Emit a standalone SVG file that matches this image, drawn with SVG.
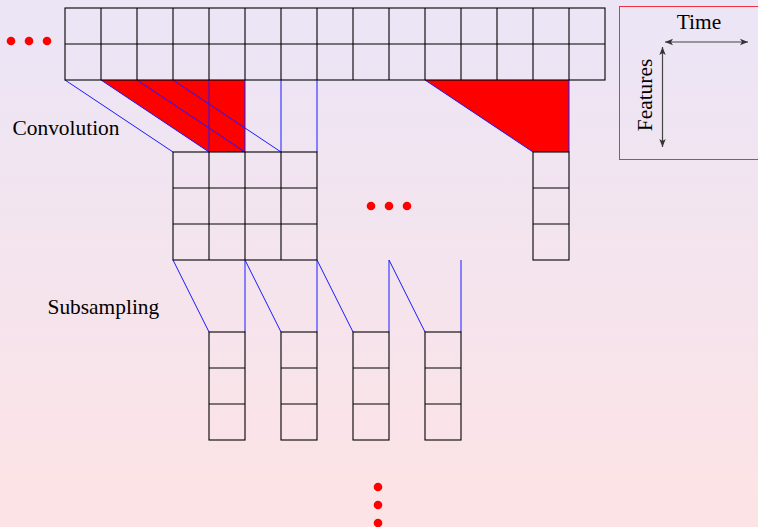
<svg xmlns="http://www.w3.org/2000/svg" width="758" height="527" viewBox="0 0 758 527">
<defs>
<linearGradient id="bg" x1="0" y1="0" x2="0" y2="1">
<stop offset="0" stop-color="#ebe5f6"/>
<stop offset="1" stop-color="#fde3e5"/>
</linearGradient>
<marker id="ah" viewBox="-1 -4 10 8" markerWidth="10" markerHeight="8" refX="8" refY="0" orient="auto-start-reverse" markerUnits="userSpaceOnUse">
<path d="M0,-3.2 L8,0 L0,3.2 L2,0 z" fill="#333"/>
</marker>
</defs>
<style>
.cell{fill:none;stroke:#000;stroke-width:1.1}
.conn{stroke:#1a1aff;stroke-width:1;fill:none}
.kern{fill:#ff0000;stroke:none}
.dot{fill:#ff0000}
.lbl{font-family:"Liberation Serif","Times New Roman",serif;font-size:21.4px;fill:#000}
.axis{stroke:#444;stroke-width:1.2;fill:none;marker-start:url(#ah);marker-end:url(#ah)}
</style>
<rect width="758" height="527" fill="url(#bg)"/>

<g id="kernels">
<polygon class="kern" points="101,80 245,80 245,152 209,152"/>
<polygon class="kern" points="425,80 569,80 569,152 533,152"/>
</g>

<g id="connectors">
<line class="conn" x1="65" y1="80" x2="173" y2="152"/>
<line class="conn" x1="101" y1="80" x2="209" y2="152"/>
<line class="conn" x1="137" y1="80" x2="245" y2="152"/>
<line class="conn" x1="173" y1="80" x2="281" y2="152"/>
<line class="conn" x1="209" y1="80" x2="209" y2="152"/>
<line class="conn" x1="245" y1="80" x2="245" y2="152"/>
<line class="conn" x1="281" y1="80" x2="281" y2="152"/>
<line class="conn" x1="317" y1="80" x2="317" y2="152"/>
<line class="conn" x1="425" y1="80" x2="533" y2="152"/>
<line class="conn" x1="569" y1="80" x2="569" y2="152"/>
<line class="conn" x1="173" y1="260" x2="209" y2="332"/>
<line class="conn" x1="245" y1="260" x2="245" y2="332"/>
<line class="conn" x1="245" y1="260" x2="281" y2="332"/>
<line class="conn" x1="317" y1="260" x2="317" y2="332"/>
<line class="conn" x1="317" y1="260" x2="353" y2="332"/>
<line class="conn" x1="389" y1="260" x2="389" y2="332"/>
<line class="conn" x1="389" y1="260" x2="425" y2="332"/>
<line class="conn" x1="461" y1="260" x2="461" y2="332"/>
</g>

<g id="input-layer">
<rect class="cell" x="65" y="8" width="540" height="72"/>
<path class="cell" d="M65,44H605 M101,8V80 M137,8V80 M173,8V80 M209,8V80 M245,8V80 M281,8V80 M317,8V80 M353,8V80 M389,8V80 M425,8V80 M461,8V80 M497,8V80 M533,8V80 M569,8V80"/>
</g>

<g id="conv-layer">
<rect class="cell" x="173" y="152" width="144" height="108"/>
<path class="cell" d="M173,188H317 M173,224H317 M209,152V260 M245,152V260 M281,152V260"/>
</g>

<g id="conv-right">
<rect class="cell" x="533" y="152" width="36" height="108"/>
<path class="cell" d="M533,188H569 M533,224H569"/>
</g>

<g id="sub-1">
<rect class="cell" x="209" y="332" width="36" height="108"/>
<path class="cell" d="M209,368H245 M209,404H245"/>
</g>
<g id="sub-2">
<rect class="cell" x="281" y="332" width="36" height="108"/>
<path class="cell" d="M281,368H317 M281,404H317"/>
</g>
<g id="sub-3">
<rect class="cell" x="353" y="332" width="36" height="108"/>
<path class="cell" d="M353,368H389 M353,404H389"/>
</g>
<g id="sub-4">
<rect class="cell" x="425" y="332" width="36" height="108"/>
<path class="cell" d="M425,368H461 M425,404H461"/>
</g>

<g id="dots-left">
<circle class="dot" cx="11" cy="41" r="4.3"/>
<circle class="dot" cx="29" cy="41" r="4.3"/>
<circle class="dot" cx="47" cy="41" r="4.3"/>
</g>
<g id="dots-middle">
<circle class="dot" cx="371" cy="206" r="4.3"/>
<circle class="dot" cx="389" cy="206" r="4.3"/>
<circle class="dot" cx="407" cy="206" r="4.3"/>
</g>
<g id="dots-bottom">
<circle class="dot" cx="378" cy="487" r="4.3"/>
<circle class="dot" cx="378" cy="505" r="4.3"/>
<circle class="dot" cx="378" cy="523" r="4.3"/>
</g>

<g id="label-convolution">
<text class="lbl" x="12.5" y="135">Convolution</text>
</g>
<g id="label-subsampling">
<text class="lbl" x="47.5" y="314">Subsampling</text>
</g>

<g id="legend">
<rect x="619.5" y="6.5" width="150" height="153" fill="none" stroke="#f03040" stroke-width="1"/>
<text class="lbl" x="699" y="29" text-anchor="middle">Time</text>
<text class="lbl" transform="translate(652,95) rotate(-90)" text-anchor="middle">Features</text>
<line class="axis" x1="665" y1="42" x2="748" y2="42"/>
<line class="axis" x1="662.5" y1="47" x2="662.5" y2="147"/>
</g>
</svg>
